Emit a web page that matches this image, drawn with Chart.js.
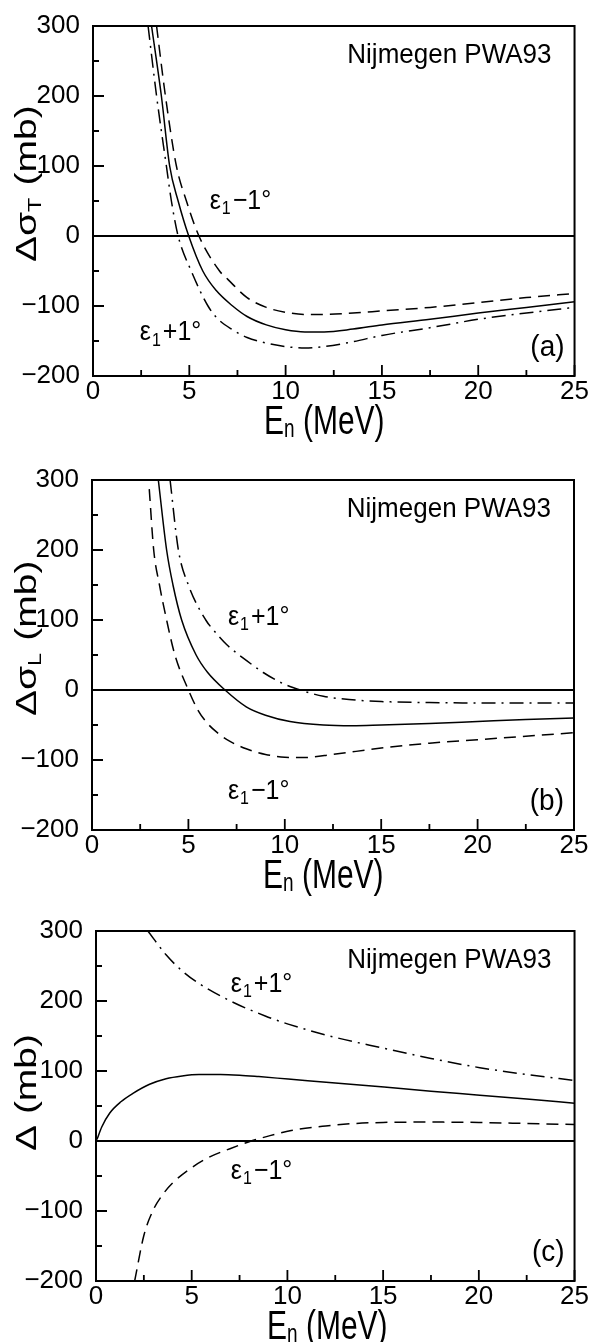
<!DOCTYPE html>
<html>
<head>
<meta charset="utf-8">
<script src="https://cdn.jsdelivr.net/npm/chart.js@4.4.1/dist/chart.umd.min.js"></script>
<style>
  html, body { margin: 0; padding: 0; background: #fff; overflow: hidden; }
  body { width: 592px; height: 1342px; position: relative; }
  canvas { position: absolute; left: 0; }
</style>
</head>
<body>
<canvas id="panelA" width="592" height="450" style="top:0px"></canvas>
<canvas id="panelB" width="592" height="450" style="top:454px"></canvas>
<canvas id="panelC" width="592" height="450" style="top:905px"></canvas>
<script>
// axis ticks (E_n in MeV, cross sections in mb)
var xTickValues = [0, 5, 10, 15, 20, 25];
var yTickValues = [-200, -100, 0, 100, 200, 300];

// (a) delta sigma_T
var aCentralE = [3.04, 3.55, 3.98, 4.42, 4.97, 5.7, 6.4, 7.25, 8, 9, 10, 11, 12, 13.5, 15, 17.5, 20, 22.5, 25];
var aCentralV = [300, 200, 100, 50, 0, -50, -78, -100, -115, -127, -134, -137, -137, -133, -127, -119, -110, -102, -94];
var aMinusE = [3.3, 3.76, 4.33, 4.85, 5.5, 6.57, 7, 8, 9, 10, 11, 12, 13.5, 15, 17.5, 20, 22.5, 25];
var aMinusV = [300, 200, 100, 50, 0, -50, -62, -88, -102, -109, -112, -112, -110, -107, -102, -95, -88, -82];
var aPlusE = [2.86, 3.3, 3.81, 4.07, 4.42, 5.1, 5.97, 6.5, 7.25, 8, 9, 10, 11, 12, 13.5, 15, 17.5, 20, 22.5, 25];
var aPlusV = [300, 200, 100, 50, 0, -50, -100, -119, -134, -145, -153, -158, -160, -158, -151, -142, -131, -119, -110, -102];

// (b) delta sigma_L
var bCentralE = [3.44, 3.87, 4.2, 4.65, 5.4, 6.0, 6.9, 8, 9, 10.27, 12, 13.5, 15, 17.5, 20, 22.5, 25];
var bCentralV = [300, 200, 150, 100, 50, 25, 0, -24, -36, -45, -50, -51, -50, -48, -45, -42, -40];
var bMinusE = [2.97, 3.2, 3.5, 3.87, 4.3, 5.0, 5.5, 6, 6.5, 7, 8, 9, 10, 11, 12.5, 15, 17.5, 20, 22.5, 25];
var bMinusV = [287, 200, 150, 100, 50, 0, -29, -48, -61, -71, -84, -92, -96, -96.5, -92, -83, -76, -71, -66, -61];
var bPlusE = [4.05, 4.48, 5.0, 5.9, 6.29, 6.98, 8.02, 8.88, 9.92, 10.8, 12, 13.5, 15, 17.5, 20, 25];
var bPlusV = [300, 200, 150, 100, 86, 65, 42, 25, 9, 0, -9, -14, -16.5, -18, -18.5, -18.7];

// (c) Delta
var cCentralE = [0.05, 0.3, 0.72, 1.3, 1.93, 2.8, 3.66, 4.5, 5.38, 6.5, 7.5, 8.5, 10.04, 12.5, 15.05, 17.5, 20.05, 22.5, 25];
var cCentralV = [2, 20, 40, 56, 68, 81, 89, 93, 95, 95, 94, 92, 88.5, 83, 77, 71, 65.5, 60, 54];
var cMinusE = [2.02, 2.5, 3, 3.5, 4, 5, 6, 7, 8, 9, 10.2, 12, 13.5, 15, 17.5, 20, 22.5, 25];
var cMinusV = [-200, -135, -98, -76, -60, -38, -22, -11, -1, 7, 15, 21.5, 25, 26.5, 27, 26.5, 25, 23.5];
var cPlusE = [2.71, 3.66, 4.5, 5.38, 7.1, 8.84, 10.04, 12.5, 15.05, 17.5, 20.05, 22.5, 25];
var cPlusV = [300, 266, 243, 225, 199, 178.6, 167, 148, 132.5, 118, 104.8, 95, 86.4];

var FONT = '"Liberation Sans", Arial, sans-serif';
var TICKFONT = '"Liberation Sans Narrow", "Liberation Sans", Arial, sans-serif';

function toPoints(es, vs) {
  return es.map(function(e, i) { return { x: e, y: vs[i] }; });
}

function line(es, vs, dash) {
  return {
    data: toPoints(es, vs),
    borderColor: '#000',
    borderWidth: 1.5,
    borderDash: dash,
    pointRadius: 0,
    fill: false,
    cubicInterpolationMode: 'monotone'
  };
}

// text built from [string, size, yShift, gapAfter] pieces
function drawPieces(ctx, pieces) {
  var cx = 0;
  pieces.forEach(function(p) {
    ctx.font = p[1] + 'px ' + FONT;
    ctx.fillText(p[0], cx, p[2] || 0);
    cx += ctx.measureText(p[0]).width + (p[3] || 0);
  });
}

function makeDecor(cfg) {
  return {
    id: 'decor',
    afterDraw: function(chart) {
      var ctx = chart.ctx;
      var a = chart.chartArea;
      var xs = chart.scales.x, ys = chart.scales.y;
      ctx.save();
      ctx.strokeStyle = '#000';
      ctx.fillStyle = '#000';

      // frame
      ctx.lineWidth = 2;
      ctx.strokeRect(a.left, a.top, a.right - a.left, a.bottom - a.top);

      // inward ticks, major and minor
      ctx.lineWidth = 1.8;
      ctx.beginPath();
      xTickValues.forEach(function(v, i) {
        var px = xs.getPixelForValue(v);
        ctx.moveTo(px, a.bottom); ctx.lineTo(px, a.bottom - 11);
        if (i < xTickValues.length - 1) {
          var mx = xs.getPixelForValue((v + xTickValues[i + 1]) / 2);
          ctx.moveTo(mx, a.bottom); ctx.lineTo(mx, a.bottom - 6);
        }
      });
      yTickValues.forEach(function(v, i) {
        var py = ys.getPixelForValue(v);
        ctx.moveTo(a.left, py); ctx.lineTo(a.left + 11, py);
        if (i < yTickValues.length - 1) {
          var my = ys.getPixelForValue((v + yTickValues[i + 1]) / 2);
          ctx.moveTo(a.left, my); ctx.lineTo(a.left + 6, my);
        }
      });
      ctx.stroke();

      ctx.textBaseline = 'alphabetic';
      ctx.textAlign = 'left';

      // y title, rotated
      ctx.save();
      ctx.translate(36, a.bottom - cfg.yTitleStart);
      ctx.rotate(-Math.PI / 2);
      ctx.scale(1.3, 1);
      drawPieces(ctx, cfg.yTitle);
      ctx.restore();

      // x title
      ctx.save();
      ctx.translate(a.left + 171, a.bottom + 58);
      ctx.scale(1, 1.33);
      drawPieces(ctx, [['E', 30], ['n', 19, 2.5, 0], [' (MeV)', 30]]);
      ctx.restore();

      // Nijmegen PWA93
      ctx.save();
      ctx.font = '26px ' + FONT;
      ctx.textAlign = 'right';
      ctx.translate(a.right - 23, a.top + 37);
      ctx.scale(1, 1.07);
      ctx.fillText('Nijmegen PWA93', 0, 0);
      ctx.restore();

      // panel letter
      ctx.save();
      ctx.font = '28px ' + FONT;
      ctx.textAlign = 'right';
      ctx.translate(a.right - 10, a.bottom - 20);
      ctx.scale(1, 1.05);
      ctx.fillText(cfg.letter, 0, 0);
      ctx.restore();

      // epsilon labels placed in data coordinates
      cfg.eps.forEach(function(l) {
        ctx.save();
        ctx.translate(xs.getPixelForValue(l.x), ys.getPixelForValue(l.y));
        ctx.scale(1, 1.1);
        drawPieces(ctx, [['\u03b5', 25, 0, 1], ['1', 16, 5, 2], [l.text, 25]]);
        ctx.restore();
      });

      ctx.restore();
    }
  };
}

function makePanel(id, cfg) {
  return new Chart(document.getElementById(id), {
    type: 'line',
    data: {
      datasets: [
        line(cfg.central[0], cfg.central[1], []),
        line(cfg.minus[0], cfg.minus[1], [12, 7]),
        line(cfg.plus[0], cfg.plus[1], [14, 6, 2, 6])
      ]
    },
    options: {
      responsive: false,
      animation: false,
      events: [],
      layout: { padding: { top: 14, right: 592 - cfg.right, left: 0, bottom: 0 } },
      plugins: { legend: { display: false }, tooltip: { enabled: false } },
      scales: {
        x: {
          type: 'linear',
          min: 0, max: 25,
          afterFit: function(s) { s.height = 74; },
          grid: { display: false, drawTicks: false },
          border: { display: false },
          ticks: {
            stepSize: 5, maxRotation: 0, autoSkip: false, padding: 3, color: '#000',
            font: { family: TICKFONT, size: 26, lineHeight: 1 }
          }
        },
        y: {
          type: 'linear',
          min: -200, max: 300,
          afterFit: function(s) { s.width = cfg.left; },
          grid: {
            drawTicks: false,
            lineWidth: 2,
            color: function(c) { return c.tick && c.tick.value === 0 ? '#000' : 'rgba(0,0,0,0)'; }
          },
          border: { display: false },
          ticks: {
            stepSize: 100, padding: 13, color: '#000',
            font: { family: TICKFONT, size: 26, lineHeight: 1 },
            callback: function(v) { return String(v).replace('-', '\u2212'); }
          }
        }
      }
    },
    plugins: [makeDecor(cfg)]
  });
}

makePanel('panelA', {
  left: 93, right: 576, letter: '(a)',
  central: [aCentralE, aCentralV], minus: [aMinusE, aMinusV], plus: [aPlusE, aPlusV],
  yTitle: [['\u0394\u03c3', 30], ['T', 18, 5, 1], [' (mb)', 30]], yTitleStart: 114,
  eps: [{ x: 6.06, y: 39, text: '\u22121\u00b0' }, { x: 2.43, y: -149, text: '+1\u00b0' }]
});

makePanel('panelB', {
  left: 92, right: 574, letter: '(b)',
  central: [bCentralE, bCentralV], minus: [bMinusE, bMinusV], plus: [bPlusE, bPlusV],
  yTitle: [['\u0394\u03c3', 30], ['L', 18, 5, 1], [' (mb)', 30]], yTitleStart: 114,
  eps: [{ x: 7.05, y: 93, text: '+1\u00b0' }, { x: 7.05, y: -155, text: '\u22121\u00b0' }]
});

makePanel('panelC', {
  left: 96, right: 579, letter: '(c)',
  central: [cCentralE, cCentralV], minus: [cMinusE, cMinusV], plus: [cPlusE, cPlusV],
  yTitle: [['\u0394 (mb)', 30]], yTitleStart: 130,
  eps: [{ x: 7.04, y: 213, text: '+1\u00b0' }, { x: 7.04, y: -54, text: '\u22121\u00b0' }]
});
</script>
</body>
</html>
